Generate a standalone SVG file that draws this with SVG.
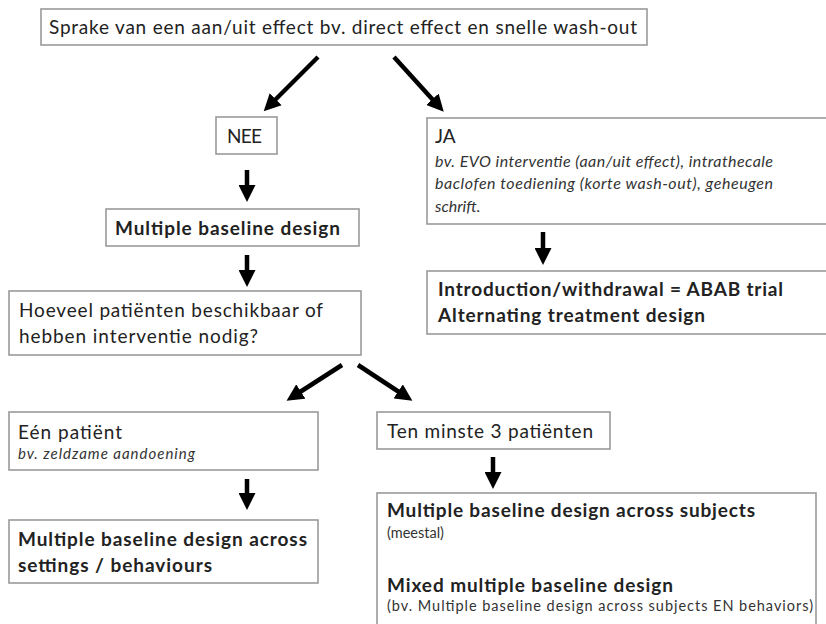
<svg xmlns="http://www.w3.org/2000/svg" width="826" height="624" viewBox="0 0 826 624">
<style>
.box{fill:#fff;stroke:#9a9a9a;stroke-width:1.6}
.t{font-family:Lato,"Open Sans","Liberation Sans",sans-serif;fill:#222;font-size:19px}
.b{font-weight:bold}
.i{font-style:italic;font-size:16px;fill:#333}
.s{font-size:14.5px;fill:#333}
.c line{stroke:#000;stroke-width:4.5;marker-end:url(#ah)}
</style>
<defs>
<marker id="ah" markerUnits="userSpaceOnUse" markerWidth="17" markerHeight="17" viewBox="0 0 17 17" refX="1" refY="8.5" orient="auto">
<path d="M0,0 L17,8.5 L0,17 z" fill="#000"/>
</marker>
</defs>
<rect width="826" height="624" fill="#fff"/>
<g id="connectors" class="c">
<line x1="318" y1="57" x2="275" y2="100"/>
<line x1="394" y1="57" x2="433" y2="100"/>
<line x1="247" y1="170" x2="247" y2="186"/>
<line x1="247" y1="255" x2="247" y2="271"/>
<line x1="543" y1="232" x2="543" y2="249"/>
<line x1="342" y1="365" x2="300" y2="392"/>
<line x1="358" y1="365" x2="399" y2="392"/>
<line x1="247" y1="479" x2="247" y2="494"/>
<line x1="493" y1="457" x2="493" y2="473"/>
</g>
<g id="top">
<rect class="box" x="41" y="9" width="606" height="36"/>
<text class="t" x="49" y="34" textLength="588">Sprake van een aan/uit effect bv. direct effect en snelle wash-out</text>
</g>
<g id="nee">
<rect class="box" x="216" y="117" width="61" height="37"/>
<text class="t" x="227" y="143" textLength="35">NEE</text>
</g>
<g id="mbd">
<rect class="box" x="106" y="209" width="253" height="37"/>
<text class="t b" x="115" y="235" textLength="225">Multiple baseline design</text>
</g>
<g id="hoeveel">
<rect class="box" x="9" y="291" width="352" height="64"/>
<text class="t" x="19" y="317" textLength="304">Hoeveel patiënten beschikbaar of</text>
<text class="t" x="19" y="343" textLength="239">hebben interventie nodig?</text>
</g>
<g id="ja">
<rect class="box" x="427" y="118" width="410" height="106"/>
<text class="t" x="435" y="143">JA</text>
<text class="t i" x="435" y="167" textLength="338">bv. EVO interventie (aan/uit effect), intrathecale</text>
<text class="t i" x="435" y="189" textLength="338">baclofen toediening (korte wash-out), geheugen</text>
<text class="t i" x="435" y="212">schrift.</text>
</g>
<g id="intro">
<rect class="box" x="427" y="271" width="410" height="63"/>
<text class="t b" x="438" y="296" textLength="345">Introduction/withdrawal = ABAB trial</text>
<text class="t b" x="438" y="322" textLength="267">Alternating treatment design</text>
</g>
<g id="een">
<rect class="box" x="9" y="412" width="309" height="58"/>
<text class="t" x="18" y="439" textLength="104">Eén patiënt</text>
<text class="t i" x="18" y="459" textLength="177" style="font-size:15px">bv. zeldzame aandoening</text>
</g>
<g id="settings">
<rect class="box" x="9" y="520" width="309" height="63"/>
<text class="t b" x="18" y="546" textLength="289">Multiple baseline design across</text>
<text class="t b" x="18" y="572" textLength="194">settings / behaviours</text>
</g>
<g id="tenminste">
<rect class="box" x="377" y="412" width="233" height="37"/>
<text class="t" x="387" y="438" textLength="206">Ten minste 3 patiënten</text>
</g>
<g id="subjects">
<rect class="box" x="377" y="493" width="439" height="140"/>
<text class="t b" x="387" y="517" textLength="368">Multiple baseline design across subjects</text>
<text class="t s" x="387" y="538">(meestal)</text>
<text class="t b" x="387" y="592" textLength="286">Mixed multiple baseline design</text>
<text class="t s" x="387" y="611" textLength="426">(bv. Multiple baseline design across subjects EN behaviors)</text>
</g>
</svg>
